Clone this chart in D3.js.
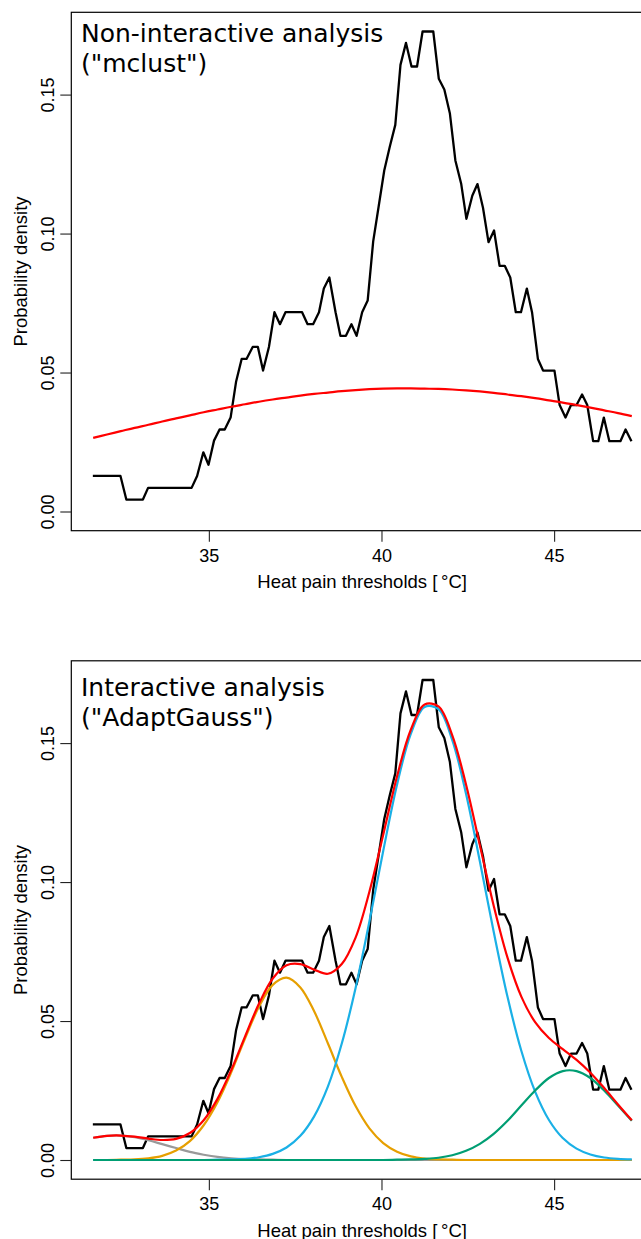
<!DOCTYPE html>
<html lang="en">
<head>
<meta charset="utf-8">
<title>Heat pain thresholds - mixture fits</title>
<script src="https://cdn.jsdelivr.net/npm/d3@7"></script>
<style>
  body { margin: 0; background: #fff; }
  svg { display: block; }
</style>
</head>
<body>
<script>
var pdeX = [31.64, 32.44, 32.61, 33.09, 33.24, 34.50, 34.66, 34.84, 34.99, 35.15,
            35.31, 35.46, 35.63, 35.79, 35.95, 36.09, 36.27, 36.42, 36.57, 36.74,
            36.90, 37.06, 37.22, 37.70, 37.86, 38.02, 38.19, 38.33, 38.49, 38.67,
            38.81, 38.97, 39.13, 39.28, 39.44, 39.60, 39.76, 39.92, 40.08, 40.24,
            40.40, 40.55, 40.71, 40.87, 41.03, 41.19, 41.50, 41.66, 41.82, 41.98,
            42.14, 42.31, 42.46, 42.63, 42.78, 42.94, 43.10, 43.26, 43.42, 43.57,
            43.73, 43.89, 44.04, 44.21, 44.36, 44.53, 44.68, 45.01, 45.16, 45.33,
            45.49, 45.65, 45.81, 45.96, 46.13, 46.28, 46.44, 46.60, 46.92, 47.07, 47.24];
var pdeY = [0.0128, 0.0128, 0.0043, 0.0043, 0.0085, 0.0085, 0.0128, 0.0213, 0.0168, 0.0255,
            0.0295, 0.0295, 0.0338, 0.0468, 0.0549, 0.0549, 0.0592, 0.0592, 0.0507, 0.0592,
            0.0717, 0.0674, 0.0717, 0.0717, 0.0674, 0.0674, 0.0717, 0.0802, 0.0842, 0.0717,
            0.0632, 0.0632, 0.0674, 0.0632, 0.0717, 0.0759, 0.0972, 0.1099, 0.1227, 0.1312,
            0.1391, 0.1607, 0.1686, 0.1601, 0.1601, 0.1727, 0.1727, 0.1557, 0.1518, 0.1433,
            0.1263, 0.1178, 0.1053, 0.1136, 0.1178, 0.1093, 0.0969, 0.1011, 0.0884, 0.0884,
            0.0842, 0.0717, 0.0717, 0.0802, 0.0717, 0.0549, 0.0507, 0.0507, 0.0383, 0.0338,
            0.0383, 0.0383, 0.0421, 0.0383, 0.0253, 0.0253, 0.0338, 0.0253, 0.0253, 0.0295, 0.0253];

// x positions where the fitted curves were read
var gridX = [31.65, 32.05, 32.45, 32.85, 33.25, 33.65, 34.05, 34.45, 34.85, 35.25,
             35.65, 36.05, 36.45, 36.85, 37.25, 37.65, 38.05, 38.45, 38.85, 39.25,
             39.65, 40.05, 40.45, 40.85, 41.25, 41.65, 42.05, 42.45, 42.85, 43.25,
             43.65, 44.05, 44.45, 44.85, 45.25, 45.65, 46.05, 46.45, 46.85, 47.25];

// top panel: single mclust gaussian
var mclustY = [0.0265, 0.0277, 0.0289, 0.0301, 0.0312, 0.0324, 0.0335, 0.0346, 0.0357, 0.0367,
               0.0377, 0.0386, 0.0395, 0.0403, 0.0410, 0.0417, 0.0423, 0.0428, 0.0433, 0.0437,
               0.0440, 0.0442, 0.0443, 0.0443, 0.0442, 0.0441, 0.0439, 0.0436, 0.0432, 0.0427,
               0.0421, 0.0415, 0.0408, 0.0400, 0.0392, 0.0383, 0.0374, 0.0364, 0.0354, 0.0343];

// bottom panel: AdaptGauss components and their sum
var grayY = [0.0080, 0.0087, 0.0088, 0.0082, 0.0071, 0.0057, 0.0043, 0.0029, 0.0019, 0.0011,
             0.0006, 0.0003, 0.0002, 0.0001, 0, 0, 0, 0, 0, 0,
             0, 0, 0, 0, 0, 0, 0, 0, 0, 0,
             0, 0, 0, 0, 0, 0, 0, 0, 0, 0];
var orangeY = [0, 0, 0.0001, 0.0002, 0.0006, 0.0015, 0.0034, 0.0068, 0.0125, 0.0208,
               0.0316, 0.0438, 0.0551, 0.0630, 0.0656, 0.0621, 0.0535, 0.0419, 0.0299, 0.0194,
               0.0114, 0.0061, 0.0030, 0.0013, 0.0005, 0.0002, 0.0001, 0, 0, 0,
               0, 0, 0, 0, 0, 0, 0, 0, 0, 0];
var blueY = [0, 0, 0, 0, 0, 0, 0, 0, 0, 0.0001,
             0.0002, 0.0004, 0.0010, 0.0022, 0.0045, 0.0087, 0.0157, 0.0265, 0.0419, 0.0619,
             0.0858, 0.1112, 0.1350, 0.1533, 0.1630, 0.1622, 0.1511, 0.1317, 0.1074, 0.0821,
             0.0587, 0.0393, 0.0246, 0.0144, 0.0079, 0.0041, 0.0020, 0.0009, 0.0004, 0.0002];
var greenY = [0, 0, 0, 0, 0, 0, 0, 0, 0, 0,
              0, 0, 0, 0, 0, 0, 0, 0, 0, 0,
              0, 0, 0.0001, 0.0002, 0.0004, 0.0008, 0.0017, 0.0033, 0.0058, 0.0094,
              0.0141, 0.0196, 0.0250, 0.0295, 0.0320, 0.0320, 0.0295, 0.0250, 0.0196, 0.0141];
var sumY = [0.0080, 0.0087, 0.0088, 0.0084, 0.0077, 0.0072, 0.0076, 0.0097, 0.0143, 0.0220,
            0.0324, 0.0445, 0.0562, 0.0653, 0.0701, 0.0705, 0.0685, 0.0670, 0.0705, 0.0800,
            0.0965, 0.1170, 0.1380, 0.1548, 0.1639, 0.1632, 0.1528, 0.1350, 0.1132, 0.0915,
            0.0728, 0.0588, 0.0496, 0.0439, 0.0399, 0.0360, 0.0314, 0.0259, 0.0200, 0.0143];

var xTicks = [35, 40, 45];
var yTicks = [0, 0.05, 0.10, 0.15];
var xTitle = "Heat pain thresholds [\u2009\u00B0C]";
var yTitle = "Probability density";

var w = 641, h = 1239;
var svg = d3.select("body").append("svg").attr("width", w).attr("height", h);

// R-style 4% padding around the data range
function pad(ext) { var d = (ext[1] - ext[0]) * 0.04; return [ext[0] - d, ext[1] + d]; }
var xDom = pad(d3.extent(pdeX));
var yDom = pad([0, d3.max(pdeY)]);

var box = {left: 71.3, right: 653, top: 12.3, bottom: 530.7};
var axisFont = "'Liberation Sans', Arial, sans-serif";

function drawPanel(offset, title, titleBase, curves) {
    var g = svg.append("g").attr("transform", "translate(0," + offset + ")");
    var x = d3.scaleLinear().domain(xDom).range([box.left, box.right]);
    var y = d3.scaleLinear().domain(yDom).range([box.bottom, box.top]);

    var lines = g.append("g");

    lines.append("path")
        .datum(d3.zip(pdeX, pdeY))
        .attr("fill", "none").attr("stroke", "#000").attr("stroke-width", 2.3)
        .attr("stroke-linejoin", "round")
        .attr("d", d3.line().x(function(d) { return x(d[0]); }).y(function(d) { return y(d[1]); }));

    var smooth = d3.line().curve(d3.curveCatmullRom)
        .x(function(d) { return x(d[0]); }).y(function(d) { return y(d[1]); });
    curves.forEach(function(c) {
        lines.append("path")
            .datum(d3.zip(gridX, c.values))
            .attr("fill", "none").attr("stroke", c.color).attr("stroke-width", 2.2)
            .attr("d", smooth);
    });

    g.append("rect")
        .attr("x", box.left).attr("y", box.top)
        .attr("width", box.right - box.left).attr("height", box.bottom - box.top)
        .attr("fill", "none").attr("stroke", "#000").attr("stroke-width", 1.2);

    var xaxis = g.append("g").attr("transform", "translate(0," + box.bottom + ")")
        .call(d3.axisBottom(x).tickValues(xTicks).tickSize(11).tickPadding(7.5).tickFormat(d3.format("d")));
    xaxis.select(".domain").remove();

    var yaxis = g.append("g").attr("transform", "translate(" + box.left + ",0)")
        .call(d3.axisLeft(y).tickValues(yTicks).tickSize(11).tickFormat(d3.format(".2f")));
    yaxis.select(".domain").remove();
    yaxis.selectAll("text")
        .attr("transform", "rotate(-90)")
        .attr("x", 0).attr("y", -17.8).attr("dy", 0)
        .attr("text-anchor", "middle");

    [xaxis, yaxis].forEach(function(a) {
        a.selectAll("line").attr("stroke", "#222").attr("stroke-width", 1.1);
        a.selectAll("text").attr("font-family", axisFont).attr("font-size", 18).attr("fill", "#000");
    });

    g.append("text")
        .attr("x", (box.left + box.right) / 2).attr("y", 588)
        .attr("text-anchor", "middle")
        .attr("font-family", axisFont).attr("font-size", 18.5)
        .text(xTitle);
    g.append("text")
        .attr("transform", "translate(26.7," + (box.top + box.bottom) / 2 + ") rotate(-90)")
        .attr("text-anchor", "middle")
        .attr("font-family", axisFont).attr("font-size", 18.5)
        .text(yTitle);

    title.forEach(function(line, i) {
        g.append("text")
            .attr("x", 81).attr("y", titleBase + i * 29.5)
            .attr("font-family", "'DejaVu Sans', sans-serif").attr("font-size", 25)
            .attr("fill", "#000")
            .text(line);
    });
}

drawPanel(0, ["Non-interactive analysis", "(\"mclust\")"], 42, [
    {values: mclustY, color: "#ff0000"}
]);

drawPanel(648.5, ["Interactive analysis", "(\"AdaptGauss\")"], 47.5, [
    {values: grayY, color: "#999999"},
    {values: orangeY, color: "#E69F00"},
    {values: blueY, color: "#1AB0E6"},
    {values: greenY, color: "#009E73"},
    {values: sumY, color: "#ff0000"}
]);
</script>
</body>
</html>
